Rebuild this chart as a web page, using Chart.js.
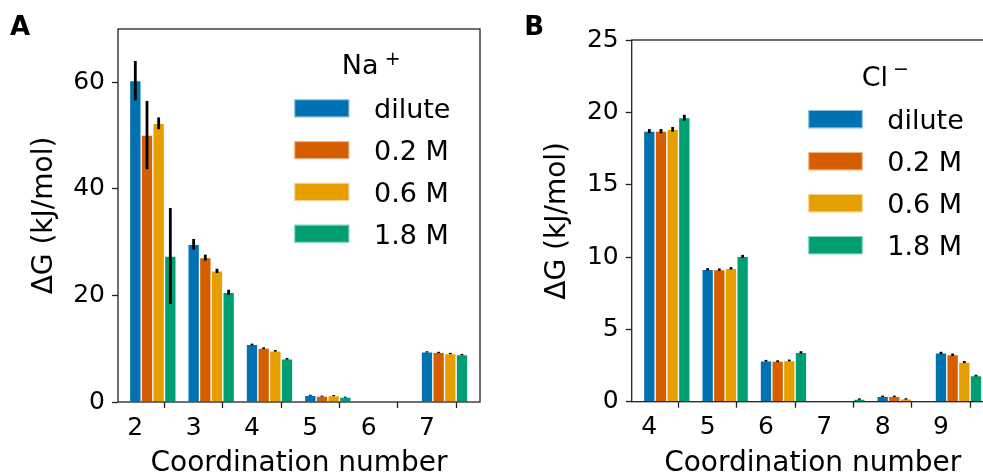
<!DOCTYPE html>
<html>
<head>
<meta charset="utf-8">
<script src="https://cdn.jsdelivr.net/npm/chart.js@4"></script>
<style>
  html, body { margin: 0; padding: 0; background: #fff; overflow: hidden; }
  .panel { position: absolute; top: 0; height: 474px; overflow: hidden; }
</style>
</head>
<body>
<div class="panel" style="left:0;width:490px"><canvas id="chartA" width="490" height="474"></canvas></div>
<div class="panel" style="left:490px;width:493px"><canvas id="chartB" width="510" height="474"></canvas></div>
<script>
'use strict';

// ── Data ──────────────────────────────────────────────────────────────────
const SERIES_LABELS = ['dilute', '0.2 M', '0.6 M', '1.8 M'];

// Na+ free energies (kJ/mol) per coordination number
const NA_CN         = [2, 3, 4, 5, 6, 7];
const NA_DILUTE     = [60.3, 29.6, 10.8, 1.25, 0, 9.4];
const NA_02M        = [50.1, 27.1, 10.1, 1.1, 0, 9.3];
const NA_06M        = [52.3, 24.6, 9.6, 1.2, 0, 9.1];
const NA_18M        = [27.4, 20.6, 8.1, 0.9, 0, 8.9];
const NA_DILUTE_ERR = [3.7, 1.0, 0.15, 0.1, 0, 0.12];
const NA_02M_ERR    = [6.4, 0.55, 0.15, 0.1, 0, 0.12];
const NA_06M_ERR    = [1.1, 0.4, 0.15, 0.1, 0, 0.12];
const NA_18M_ERR    = [9.0, 0.47, 0.15, 0.1, 0, 0.12];
const NA_Y_TICKS    = [0, 20, 40, 60];

// Cl- free energies (kJ/mol) per coordination number
const CL_CN         = [4, 5, 6, 7, 8, 9];
const CL_DILUTE     = [18.7, 9.15, 2.83, 0, 0.37, 3.37];
const CL_02M        = [18.7, 9.13, 2.8, 0, 0.37, 3.25];
const CL_06M        = [18.83, 9.22, 2.85, 0, 0.19, 2.74];
const CL_18M        = [19.63, 10.05, 3.41, 0.18, 0, 1.8];
const CL_DILUTE_ERR = [0.14, 0.08, 0.06, 0, 0.05, 0.08];
const CL_02M_ERR    = [0.15, 0.08, 0.06, 0, 0.05, 0.08];
const CL_06M_ERR    = [0.16, 0.08, 0.06, 0, 0.05, 0.07];
const CL_18M_ERR    = [0.2, 0.1, 0.08, 0.05, 0, 0.06];
const CL_Y_TICKS    = [0, 5, 10, 15, 20, 25];

// ── Style ─────────────────────────────────────────────────────────────────
const COLORS    = ['#0072b2', '#d55e00', '#e69f00', '#009e73'];
const BAR_EDGE  = 'rgba(255,255,255,0.55)';
const INK       = '#000';
const SPINE     = '#222';
const FONT      = '"DejaVu Sans", sans-serif';
const BAR_STEP  = 0.2;

// ── Plugins ───────────────────────────────────────────────────────────────

// Full box around the plot area plus the panel letter.
const framePlugin = {
  id: 'frame',
  afterDraw(chart, args, opts) {
    const { ctx, chartArea: a } = chart;
    ctx.save();
    ctx.strokeStyle = SPINE;
    ctx.lineWidth = 1.3;
    ctx.strokeRect(a.left, a.top, a.right - a.left, a.bottom - a.top);
    ctx.fillStyle = INK;
    ctx.font = `bold 26px ${FONT}`;
    ctx.textBaseline = 'alphabetic';
    ctx.fillText(opts.letter, opts.letterX, opts.letterY);
    ctx.restore();
  },
};

// Vertical black error bars on top of every bar.
const errorBarPlugin = {
  id: 'errorBars',
  afterDatasetsDraw(chart) {
    const { ctx } = chart;
    const yScale = chart.scales.y;
    ctx.save();
    ctx.strokeStyle = INK;
    ctx.lineWidth = 2.8;
    ctx.lineCap = 'butt';
    chart.data.datasets.forEach((ds, di) => {
      const meta = chart.getDatasetMeta(di);
      meta.data.forEach((bar, i) => {
        const e = ds.errors[i];
        if (!e) return;
        const v = ds.data[i].y;
        ctx.beginPath();
        ctx.moveTo(bar.x, yScale.getPixelForValue(v + e));
        ctx.lineTo(bar.x, yScale.getPixelForValue(v - e));
        ctx.stroke();
      });
    });
    ctx.restore();
  },
};

// Legend with ion title (charge as superscript) and colour patches.
const ionLegendPlugin = {
  id: 'ionLegend',
  afterDraw(chart, args, opts) {
    const { ctx } = chart;
    ctx.save();
    ctx.fillStyle = INK;
    ctx.textBaseline = 'alphabetic';
    ctx.font = `27px ${FONT}`;
    ctx.fillText(opts.ion, opts.titleX, opts.titleY);
    const w = ctx.measureText(opts.ion).width;
    ctx.font = `19px ${FONT}`;
    ctx.fillText(opts.charge, opts.titleX + w + opts.supGap, opts.titleY - opts.supRise);

    chart.data.datasets.forEach((ds, i) => {
      const top = opts.rowTop + i * opts.rowStep;
      ctx.fillStyle = ds.backgroundColor;
      ctx.fillRect(opts.boxX, top, opts.boxW, opts.boxH);
      ctx.strokeStyle = BAR_EDGE;
      ctx.lineWidth = 1;
      ctx.strokeRect(opts.boxX + 0.5, top + 0.5, opts.boxW - 1, opts.boxH - 1);
      ctx.fillStyle = INK;
      ctx.font = `27px ${FONT}`;
      ctx.fillText(ds.label, opts.textX, top + opts.boxH + 1);
    });
    ctx.restore();
  },
};

// ── Chart builder ─────────────────────────────────────────────────────────

function makeDatasets(cn, seriesList, errList) {
  return seriesList.map((vals, si) => ({
    label: SERIES_LABELS[si],
    data: cn.map((c, i) => ({ x: c + si * BAR_STEP, y: vals[i] })),
    errors: errList[si],
    backgroundColor: COLORS[si],
    borderColor: BAR_EDGE,
    borderWidth: 1,
    grouped: false,
    barPercentage: 1,
    categoryPercentage: 1,
  }));
}

function buildPanel(canvasId, p) {
  return new Chart(document.getElementById(canvasId), {
    type: 'bar',
    data: { datasets: makeDatasets(p.cn, p.series, p.errors) },
    plugins: [errorBarPlugin, framePlugin, ionLegendPlugin],
    options: {
      responsive: false,
      animation: false,
      devicePixelRatio: 1,
      layout: { padding: p.padding },
      scales: {
        x: {
          type: 'linear',
          min: p.xMin, max: p.xMax,
          offset: false,
          afterBuildTicks: s => { s.ticks = p.cn.map(v => ({ value: v })); },
          afterFit: s => { s.height = p.xAxisH; },
          grid: { drawOnChartArea: false, tickLength: 6, tickWidth: 1.3, tickColor: SPINE },
          border: { display: false },
          ticks: { color: INK, padding: 5, font: { family: FONT, size: 25 }, maxRotation: 0 },
          title: {
            display: true, text: 'Coordination number', color: INK,
            font: { family: FONT, size: 28 }, padding: { top: 0, bottom: -7 },
          },
        },
        y: {
          min: p.yMin, max: p.yMax,
          afterBuildTicks: s => { s.ticks = p.yTicks.map(v => ({ value: v })); },
          afterFit: s => { s.width = p.yAxisW; },
          grid: { drawOnChartArea: false, tickLength: 6, tickWidth: 1.3, tickColor: SPINE },
          border: { display: false },
          ticks: { color: INK, padding: 7, font: { family: FONT, size: 25 } },
          title: {
            display: true, text: 'ΔG (kJ/mol)', color: INK,
            font: { family: FONT, size: 28 }, padding: { top: p.yTitlePad, bottom: 0 },
          },
        },
      },
      plugins: {
        legend: { display: false },
        tooltip: { enabled: false },
        frame: p.frame,
        ionLegend: p.legend,
      },
    },
  });
}

buildPanel('chartA', {
  cn: NA_CN,
  series: [NA_DILUTE, NA_02M, NA_06M, NA_18M],
  errors: [NA_DILUTE_ERR, NA_02M_ERR, NA_06M_ERR, NA_18M_ERR],
  xMin: 1.703, xMax: 7.909,
  yMin: 0, yMax: 70, yTicks: NA_Y_TICKS,
  padding: { left: 0, top: 29, right: 10, bottom: 0 },
  yAxisW: 118, xAxisH: 72, yTitlePad: 28,
  frame: { letter: 'A', letterX: 10, letterY: 35 },
  legend: {
    ion: 'Na', charge: '+', titleX: 341.7, titleY: 74, supGap: 6.4, supRise: 9,
    boxX: 294.3, boxW: 55, boxH: 18, rowTop: 99.3, rowStep: 41.8, textX: 374,
  },
});

buildPanel('chartB', {
  cn: CL_CN,
  series: [CL_DILUTE, CL_02M, CL_06M, CL_18M],
  errors: [CL_DILUTE_ERR, CL_02M_ERR, CL_06M_ERR, CL_18M_ERR],
  xMin: 3.698, xMax: 9.904,
  yMin: 0, yMax: 25, yTicks: CL_Y_TICKS,
  padding: { left: 0, top: 40, right: 6.3, bottom: 0 },
  yAxisW: 141.7, xAxisH: 72.3, yTitlePad: 51,
  frame: { letter: 'B', letterX: 34.3, letterY: 35 },
  legend: {
    ion: 'Cl', charge: '−', titleX: 371.7, titleY: 86, supGap: 5, supRise: 10.7,
    boxX: 318.3, boxW: 54.4, boxH: 18.3, rowTop: 110, rowStep: 42, textX: 397.3,
  },
});
</script>
</body>
</html>
